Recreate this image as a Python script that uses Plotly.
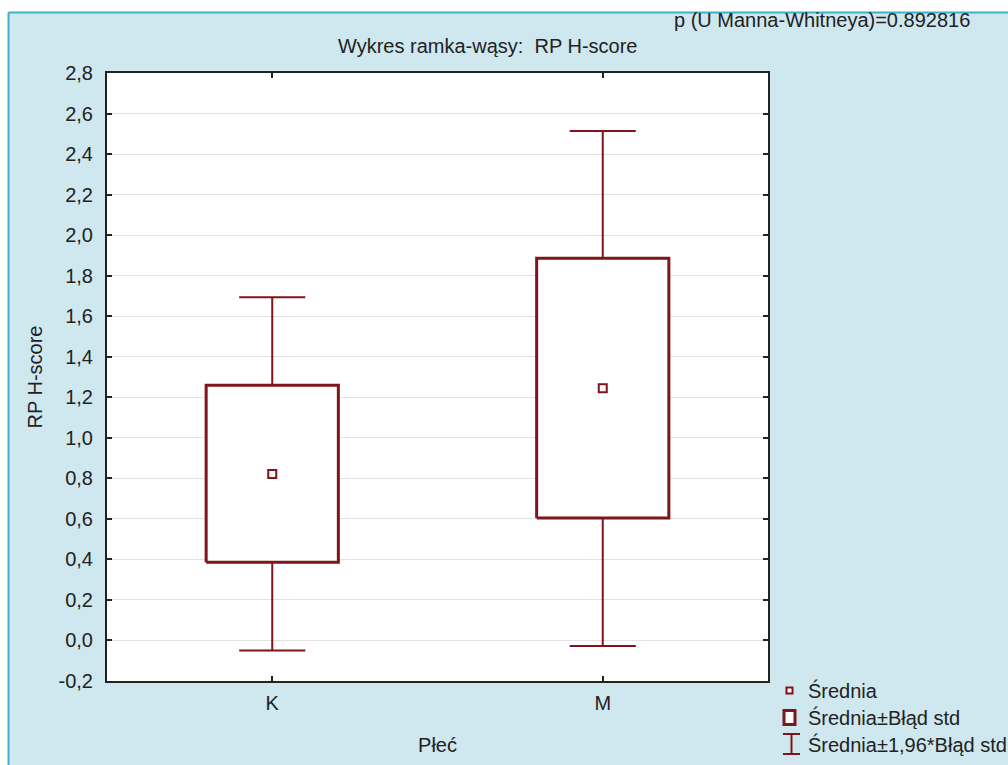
import plotly.graph_objects as go

# Group statistics for RP H-score by sex
categories = ["K", "M"]
means = [0.821, 1.244]
se_low = [0.386, 0.604]       # mean - standard error
se_high = [1.259, 1.886]      # mean + standard error
ci_low = [-0.050, -0.027]     # mean - 1.96 * standard error
ci_high = [1.693, 2.514]      # mean + 1.96 * standard error

y_tick_values = [-0.2, 0.0, 0.2, 0.4, 0.6, 0.8, 1.0, 1.2, 1.4, 1.6, 1.8, 2.0, 2.2, 2.4, 2.6, 2.8]
y_tick_labels = ["-0,2", "0,0", "0,2", "0,4", "0,6", "0,8", "1,0", "1,2", "1,4", "1,6",
                 "1,8", "2,0", "2,2", "2,4", "2,6", "2,8"]

DARK_RED = "#7f1518"
AXIS = "#222222"
BG_BLUE = "#cfe7ee"
EDGE_BLUE = "#3fb0c9"
FONT = "Liberation Sans, Arial, sans-serif"

W, H = 1008, 765
L, R, T, B = 107, 240, 73, 84
PW, PH = W - L - R, H - T - B

BOX_HALF = 0.2
CAP_HALF = 0.1


def px_x(px):
    return (px - L) / PW


def px_y(py):
    return (H - B - py) / PH


fig = go.Figure()

# Whiskers (mean ± 1.96 SE) with caps
wx, wy = [], []
for i in range(len(categories)):
    wx += [i, i, None, i - CAP_HALF, i + CAP_HALF, None,
           i, i, None, i - CAP_HALF, i + CAP_HALF, None]
    wy += [se_high[i], ci_high[i], None, ci_high[i], ci_high[i], None,
           se_low[i], ci_low[i], None, ci_low[i], ci_low[i], None]
fig.add_trace(go.Scatter(x=wx, y=wy, mode="lines",
                         line=dict(color=DARK_RED, width=2),
                         hoverinfo="skip", showlegend=False))

# Boxes (mean ± SE)
for i in range(len(categories)):
    fig.add_trace(go.Scatter(
        x=[i - BOX_HALF, i + BOX_HALF, i + BOX_HALF, i - BOX_HALF, i - BOX_HALF],
        y=[se_low[i], se_low[i], se_high[i], se_high[i], se_low[i]],
        mode="lines", fill="toself", fillcolor="white",
        line=dict(color=DARK_RED, width=3),
        hoverinfo="skip", showlegend=False))

# Means
fig.add_trace(go.Scatter(x=list(range(len(categories))), y=means, mode="markers",
                         marker=dict(symbol="square", size=8, color="white",
                                     line=dict(color=DARK_RED, width=2)),
                         showlegend=False))

shapes = [
    # white margin strips along the top and left, then the panel edge
    dict(type="rect", xref="paper", yref="paper", layer="below",
         x0=px_x(-5), x1=px_x(W + 5), y0=px_y(12), y1=px_y(-5),
         fillcolor="white", line=dict(width=0)),
    dict(type="rect", xref="paper", yref="paper", layer="below",
         x0=px_x(-5), x1=px_x(8), y0=px_y(H + 5), y1=px_y(-5),
         fillcolor="white", line=dict(width=0)),
    dict(type="line", xref="paper", yref="paper", layer="below",
         x0=px_x(8.5), x1=px_x(W + 5), y0=px_y(12.5), y1=px_y(12.5),
         line=dict(color=EDGE_BLUE, width=2)),
    dict(type="line", xref="paper", yref="paper", layer="below",
         x0=px_x(8.5), x1=px_x(8.5), y0=px_y(12.5), y1=px_y(H + 5),
         line=dict(color=EDGE_BLUE, width=2)),
    # legend symbols
    dict(type="rect", xref="paper", yref="paper",
         x0=px_x(786.5), x1=px_x(792.5), y0=px_y(693.5), y1=px_y(687.5),
         fillcolor="white", line=dict(color=DARK_RED, width=2)),
    dict(type="rect", xref="paper", yref="paper",
         x0=px_x(784), x1=px_x(795), y0=px_y(724.5), y1=px_y(710.5),
         fillcolor="white", line=dict(color=DARK_RED, width=3)),
    dict(type="line", xref="paper", yref="paper",
         x0=px_x(783), x1=px_x(800), y0=px_y(734), y1=px_y(734),
         line=dict(color=DARK_RED, width=2)),
    dict(type="line", xref="paper", yref="paper",
         x0=px_x(783), x1=px_x(800), y0=px_y(754), y1=px_y(754),
         line=dict(color=DARK_RED, width=2)),
    dict(type="line", xref="paper", yref="paper",
         x0=px_x(791.5), x1=px_x(791.5), y0=px_y(734), y1=px_y(754),
         line=dict(color=DARK_RED, width=2)),
]

text_font = dict(family=FONT, size=20, color=AXIS)
annotations = [
    dict(text="Wykres ramka-wąsy:  RP H-score", xref="paper", yref="paper",
         x=px_x(488), y=px_y(46), xanchor="center", yanchor="middle",
         showarrow=False, font=text_font),
    dict(text="p (U Manna-Whitneya)=0.892816", xref="paper", yref="paper",
         x=px_x(972), y=px_y(20), xanchor="right", yanchor="middle",
         showarrow=False, font=text_font),
]
legend_labels = ["Średnia", "Średnia±Błąd std", "Średnia±1,96*Błąd std"]
for label, ypos in zip(legend_labels, [690, 717, 745]):
    annotations.append(dict(text=label, xref="paper", yref="paper",
                            x=px_x(806), y=px_y(ypos), xanchor="left", yanchor="middle",
                            showarrow=False, font=text_font))

fig.update_layout(
    width=W, height=H, autosize=False,
    margin=dict(l=L, r=R, t=T, b=B, pad=0),
    paper_bgcolor=BG_BLUE, plot_bgcolor="white",
    font=text_font,
    shapes=shapes, annotations=annotations,
    showlegend=False,
    xaxis=dict(range=[-0.5, 1.5], tickvals=list(range(len(categories))),
               ticktext=categories, ticks="inside", ticklen=5, tickwidth=2,
               tickcolor=AXIS, showline=True, linecolor=AXIS, linewidth=2,
               mirror="ticks", showgrid=False, zeroline=False,
               tickfont=text_font, ticklabelstandoff=3,
               title=dict(text="Płeć", font=text_font, standoff=25)),
    yaxis=dict(range=[-0.2, 2.8], tickvals=y_tick_values, ticktext=y_tick_labels,
               ticks="inside", ticklen=5, tickwidth=2, tickcolor=AXIS,
               showline=True, linecolor=AXIS, linewidth=2, mirror="ticks",
               showgrid=True, gridcolor="#e2e2e2", gridwidth=1, zeroline=False,
               tickfont=text_font, ticklabelstandoff=8,
               title=dict(text="RP H-score", font=text_font, standoff=11)),
)

fig.write_html("out.html")
